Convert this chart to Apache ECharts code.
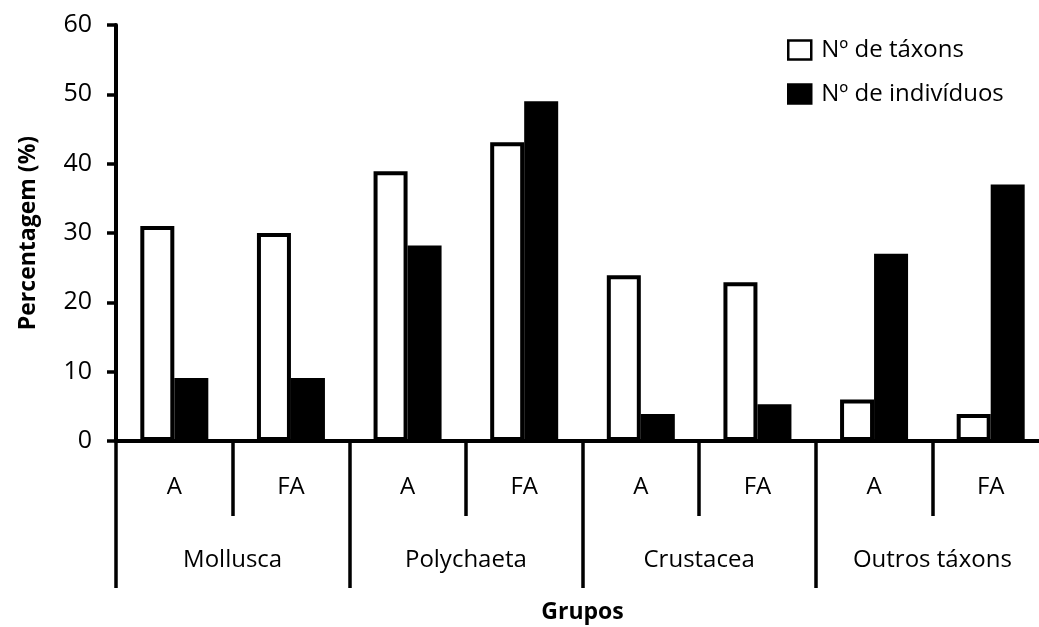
<!DOCTYPE html>
<html>
<head>
<meta charset="utf-8">
<script src="https://cdn.jsdelivr.net/npm/echarts@6/dist/echarts.min.js"></script>
<style>html,body{margin:0;padding:0;background:#fff}#c{width:1039px;height:627px}</style>
</head>
<body>
<div id="c"></div>
<script>
var subCategories = ['A', 'FA', 'A', 'FA', 'A', 'FA', 'A', 'FA'];
var groups = ['Mollusca', 'Polychaeta', 'Crustacea', 'Outros táxons'];
var taxons = [31, 30, 38.9, 43.1, 23.9, 22.9, 6.0, 3.9];
var individuos = [9.1, 9.1, 28.2, 49.0, 3.9, 5.3, 27.0, 37.0];
var yTicks = { min: 0, max: 60, interval: 10 };

var FONT = '"Open Sans", "Noto Sans", sans-serif';
var chart = echarts.init(document.getElementById('c'), null, { renderer: 'canvas' });
chart.setOption({
  animation: false,
  backgroundColor: '#fff',
  textStyle: { fontFamily: FONT, color: '#000' },
  grid: { left: 116, top: 25, right: -10, bottom: 186, containLabel: false, outerBoundsMode: 'none' },
  legend: {
    left: 782, top: 33, orient: 'vertical', itemGap: 20,
    itemWidth: 23, itemHeight: 19, icon: 'rect',
    textStyle: { fontFamily: FONT, fontSize: 24, color: '#000', padding: [0, 0, 0, 5] },
    itemStyle: { borderWidth: 2.5, borderColor: '#000' },
    data: ['Nº de táxons', 'Nº de indivíduos']
  },
  xAxis: [
    {
      type: 'category', data: subCategories, position: 'bottom',
      axisLine: { show: true, lineStyle: { color: '#000', width: 4 } },
      axisTick: { show: true, interval: 0, length: 75, lineStyle: { color: '#000', width: 3.5 } },
      axisLabel: { interval: 0, margin: 34, fontSize: 24, color: '#000', fontFamily: FONT },
      splitLine: { show: false },
      name: 'Grupos', nameLocation: 'middle', nameGap: 160,
      nameTextStyle: { fontSize: 23, fontWeight: 'bold', color: '#000', fontFamily: FONT }
    },
    {
      type: 'category', data: groups, position: 'bottom', offset: 0,
      axisLine: { show: false },
      axisTick: { show: true, interval: 0, length: 147, lineStyle: { color: '#000', width: 3.5 } },
      axisLabel: { interval: 0, margin: 107, fontSize: 24, color: '#000', fontFamily: FONT },
      splitLine: { show: false }
    }
  ],
  yAxis: {
    type: 'value', min: yTicks.min, max: yTicks.max, interval: yTicks.interval,
    axisLine: { show: true, lineStyle: { color: '#000', width: 4 } },
    axisTick: { show: true, length: 9, lineStyle: { color: '#000', width: 3.5 } },
    axisLabel: { margin: 24, fontSize: 25, color: '#000', fontFamily: FONT },
    splitLine: { show: false },
    name: 'Percentagem (%)', nameLocation: 'middle', nameGap: 76,
    nameTextStyle: { fontSize: 23, fontWeight: 'bold', color: '#000', fontFamily: FONT }
  },
  series: [
    {
      name: 'Nº de táxons', type: 'bar', xAxisIndex: 0, data: taxons,
      barWidth: 34, barGap: '0%',
      itemStyle: { color: '#fff', borderColor: '#000', borderWidth: 4 }
    },
    {
      name: 'Nº de indivíduos', type: 'bar', xAxisIndex: 0, data: individuos,
      barWidth: 34, barGap: '0%',
      itemStyle: { color: '#000', borderColor: '#000', borderWidth: 4 }
    }
  ]
});
</script>
</body>
</html>
